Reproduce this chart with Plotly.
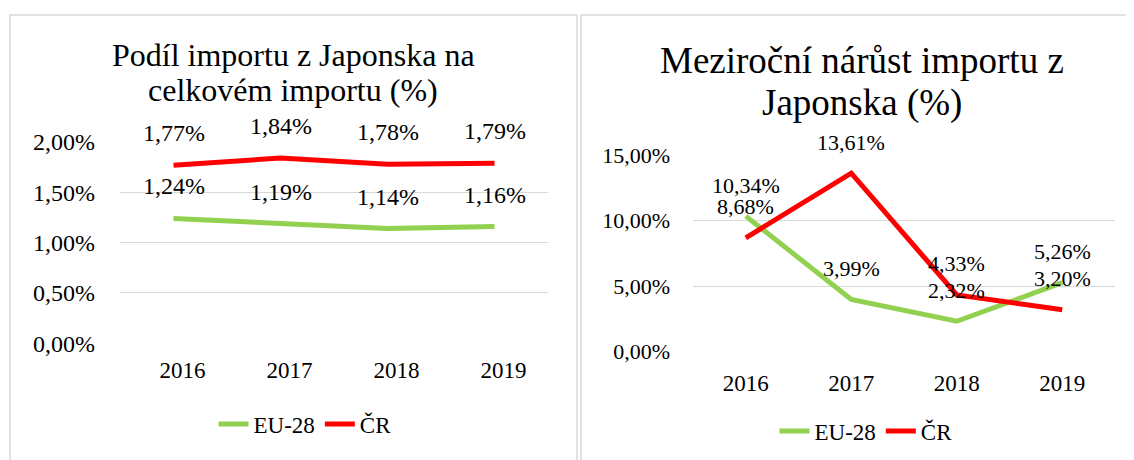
import plotly.graph_objects as go

# ---- data ----
years = ["2016", "2017", "2018", "2019"]
share_eu = [1.24, 1.19, 1.14, 1.16]
share_cr = [1.77, 1.84, 1.78, 1.79]
growth_eu = [10.34, 3.99, 2.32, 5.26]
growth_cr = [8.68, 13.61, 4.33, 3.20]
series_names = ["EU-28", "ČR"]
series_colors = ["#92D050", "#FF0000"]
title_left = ["Podíl importu z Japonska na", "celkovém importu (%)"]
title_right = ["Meziroční nárůst importu z", "Japonska (%)"]
share_ticks = [0, 0.5, 1.0, 1.5, 2.0]
growth_ticks = [0, 5, 10, 15]

W, H = 1134, 460
OFF = 8  # page body margin
FONT = "Times New Roman, Liberation Serif, Tinos, DejaVu Serif, Noto Serif, serif"


def px(x):
    return (x - OFF) / W


def py(y):
    return 1 - (y - OFF) / H


def fmt(v):
    return f"{v:.2f}".replace(".", ",") + "%"


fig = go.Figure()

for vals, name, color in zip([share_eu, share_cr], series_names, series_colors):
    fig.add_trace(go.Scatter(x=years, y=vals, mode="lines", name=name,
                             line=dict(color=color, width=5),
                             xaxis="x", yaxis="y", legend="legend",
                             hoverinfo="skip"))
for vals, name, color in zip([growth_eu, growth_cr], series_names, series_colors):
    fig.add_trace(go.Scatter(x=years, y=vals, mode="lines", name=name,
                             line=dict(color=color, width=5),
                             xaxis="x2", yaxis="y2", legend="legend2",
                             hoverinfo="skip"))

annotations = []
for vals in [share_eu, share_cr]:
    for i, v in enumerate(vals):
        annotations.append(dict(x=i, y=v, xref="x", yref="y", text=fmt(v),
                                showarrow=False, yshift=32,
                                font=dict(family=FONT, size=24, color="#000")))
for vals in [growth_eu, growth_cr]:
    for i, v in enumerate(vals):
        annotations.append(dict(x=i, y=v, xref="x2", yref="y2", text=fmt(v),
                                showarrow=False, yshift=31,
                                font=dict(family=FONT, size=22, color="#000")))
for line, yc in zip(title_left, [55, 90]):
    annotations.append(dict(x=px(293), y=py(yc), xref="paper", yref="paper",
                            text=line, showarrow=False, xanchor="center",
                            yanchor="middle",
                            font=dict(family=FONT, size=32, color="#000")))
for line, yc in zip(title_right, [60, 103]):
    annotations.append(dict(x=px(862), y=py(yc), xref="paper", yref="paper",
                            text=line, showarrow=False, xanchor="center",
                            yanchor="middle",
                            font=dict(family=FONT, size=37, color="#000")))

shapes = [
    dict(type="rect", xref="paper", yref="paper", x0=px(10), x1=px(577),
         y0=py(480), y1=py(15), line=dict(color="#D9D9D9", width=1.5)),
    dict(type="rect", xref="paper", yref="paper", x0=px(581), x1=px(1150),
         y0=py(480), y1=py(15), line=dict(color="#D9D9D9", width=1.5)),
]

grid = "#D9D9D9"
fig.update_layout(
    width=W, height=H, autosize=False,
    margin=dict(l=0, r=0, t=0, b=0, pad=0),
    paper_bgcolor="white", plot_bgcolor="white",
    font=dict(family=FONT, color="#000"),
    showlegend=True,
    annotations=annotations,
    shapes=shapes,
    xaxis=dict(domain=[px(120), px(548)], anchor="y", type="category",
               range=[-0.5, 3.5], showgrid=False, showline=False,
               zeroline=False, ticks="", tickfont=dict(family=FONT, size=23),
               ticklabelshift=9, ticklabelstandoff=11, fixedrange=True,
               automargin=False),
    yaxis=dict(domain=[py(343.3), py(142)], anchor="x", range=[0, 2],
               tickvals=share_ticks, ticktext=[fmt(v) for v in share_ticks],
               showgrid=True, gridcolor=grid, gridwidth=1.3, zeroline=False,
               showline=False, ticks="", tickfont=dict(family=FONT, size=24),
               ticklabelstandoff=24, fixedrange=True, automargin=False),
    xaxis2=dict(domain=[px(693), px(1115)], anchor="y2", type="category",
                range=[-0.5, 3.5], showgrid=False, showline=False,
                zeroline=False, ticks="", tickfont=dict(family=FONT, size=23),
                ticklabelstandoff=15, fixedrange=True, automargin=False),
    yaxis2=dict(domain=[py(351.7), py(155)], anchor="x2", range=[0, 15],
                tickvals=growth_ticks, ticktext=[fmt(v) for v in growth_ticks],
                showgrid=True, gridcolor=grid, gridwidth=1.3, zeroline=False,
                showline=False, ticks="", tickfont=dict(family=FONT, size=22),
                ticklabelstandoff=22, fixedrange=True, automargin=False),
    legend=dict(orientation="h", x=px(305), y=py(424), xanchor="center",
                yanchor="middle", font=dict(family=FONT, size=23),
                bgcolor="rgba(0,0,0,0)"),
    legend2=dict(orientation="h", x=px(866), y=py(431), xanchor="center",
                 yanchor="middle", font=dict(family=FONT, size=23),
                 bgcolor="rgba(0,0,0,0)"),
)

fig.write_html("out.html")
